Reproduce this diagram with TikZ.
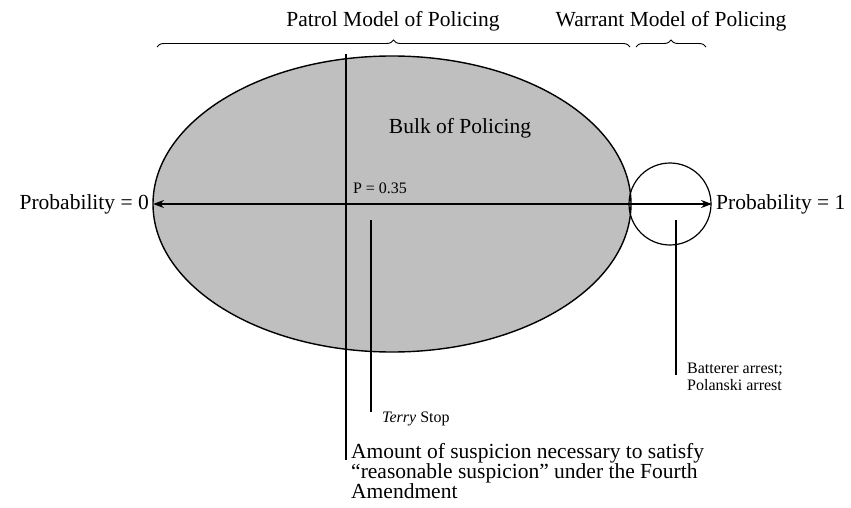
\documentclass[tikz,border=0pt]{standalone}
\usepackage{fontspec}
\setmainfont{Liberation Serif}
\usetikzlibrary{decorations.pathreplacing,arrows.meta}
\begin{document}
\begin{tikzpicture}[x=1pt,y=-1pt,
  lbl/.style={font=\fontsize{21.5}{20}\selectfont, inner sep=0pt},
  small/.style={font=\fontsize{16}{17}\selectfont, inner sep=0pt, align=left},
  brc/.style={decorate, decoration={brace, amplitude=7pt}, line width=0.9pt}]
\useasboundingbox (0,0) rectangle (851,508);
\fill[white] (0,0) rectangle (851,508);
% ellipse and circle
\draw[fill=black!25, line width=1.4pt] (392,204) ellipse [x radius=239, y radius=148];
\node[draw, circle, minimum size=82pt, line width=1.2pt, inner sep=0pt] (c) at (670,204) {};
% axis
\node[lbl, anchor=east] (p0) at (149,204) {Probability = 0};
\node[lbl, anchor=west] (p1) at (716,204) {Probability = 1};
\coordinate (al) at (153,204);
\coordinate (ar) at (712,204);
\draw[{Stealth[length=11pt,width=8pt]}-{Stealth[length=11pt,width=8pt]}, line width=1.6pt] (al) -- (ar);
% titles and braces
\node[lbl] (pat) at (393,21) {Patrol Model of Policing};
\node[lbl] (war) at (671,21) {Warrant Model of Policing};
\coordinate (b1l) at (157,47);
\coordinate (b1r) at (630,47);
\coordinate (b2l) at (636,47);
\coordinate (b2r) at (706,47);
\draw[brc] (b1l) -- (b1r);
\draw[brc] (b2l) -- (b2r);
% labels inside
\node[lbl] (bulk) at (460,128) {Bulk of Policing};
\node[small] (ps) at (380,188) {P = 0.35};
% reasonable suspicion line
\node[lbl, anchor=north west, align=left] (amt) at (351,443) {Amount of suspicion necessary to satisfy\\``reasonable suspicion'' under the Fourth\\Amendment};
\coordinate (vt) at (346,54);
\coordinate (vb) at (346,460);
\draw[line width=1.6pt] (vt) -- (vb);
% Terry stop
\node[small, anchor=west] (ts) at (382,419) {\textit{Terry} Stop};
\coordinate (tt) at (371,220);
\coordinate (tb) at (371,412);
\draw[line width=1.1pt] (tt) -- (tb);
% Batterer
\node[small, anchor=north west] (ba) at (687,363) {Batterer arrest;\\Polanski arrest};
\coordinate (bt) at (676,220);
\coordinate (bb) at (676,375);
\draw[line width=1.1pt] (bt) -- (bb);
\end{tikzpicture}
\end{document}
